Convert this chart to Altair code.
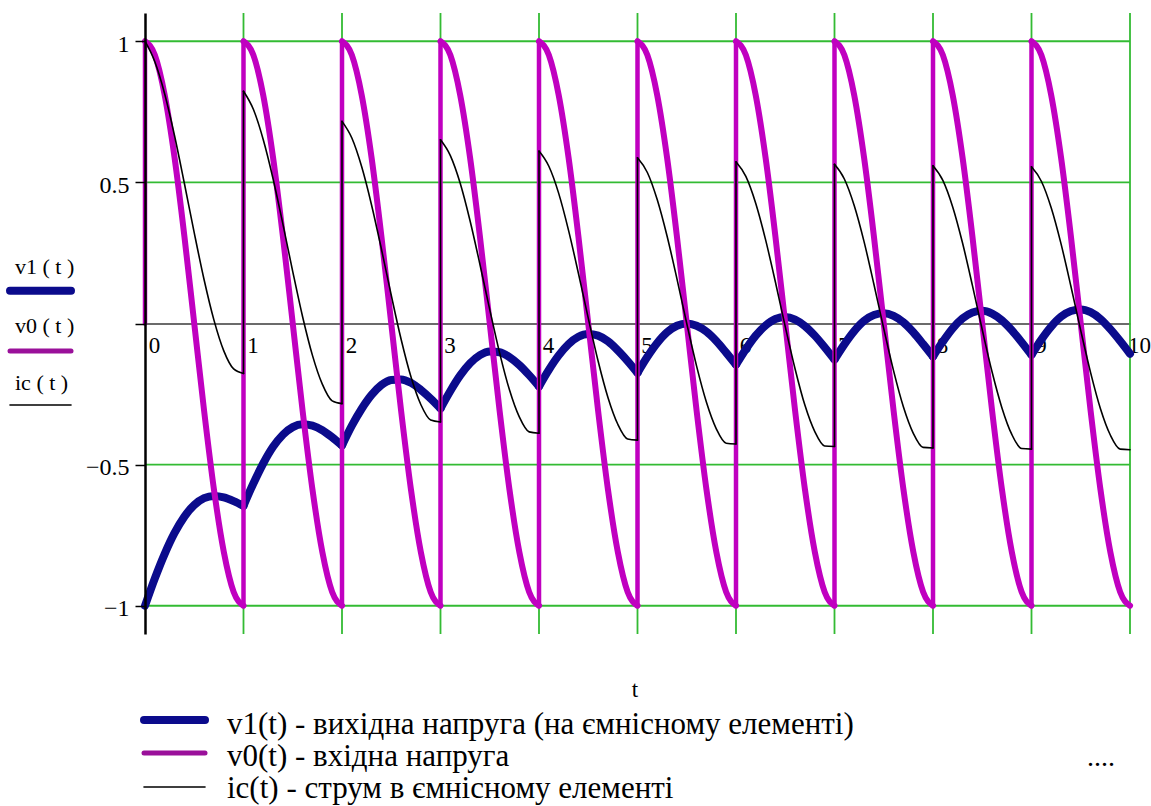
import altair as alt
import pandas as pd

SERIF = "Liberation Serif"

# ---- data ----
tau = [0.0, 0.1, 0.2, 0.3, 0.4, 0.5, 0.6, 0.7, 0.8, 0.9, 1.0]
periods = [0, 1, 2, 3, 4, 5, 6, 7, 8, 9]

v0_before_start = 0.0
v0_period = [1.0, 0.951, 0.809, 0.588, 0.309, 0.0, -0.309, -0.588, -0.809, -0.951, -1.0]

v1_periods = [
    [-1.0, -0.903, -0.816, -0.742, -0.684, -0.643, -0.619, -0.611, -0.616, -0.629, -0.646],
    [-0.646, -0.567, -0.496, -0.437, -0.394, -0.367, -0.357, -0.362, -0.378, -0.403, -0.432],
    [-0.432, -0.362, -0.302, -0.253, -0.218, -0.200, -0.198, -0.210, -0.235, -0.266, -0.301],
    [-0.301, -0.239, -0.184, -0.141, -0.112, -0.099, -0.102, -0.119, -0.147, -0.183, -0.223],
    [-0.223, -0.164, -0.113, -0.073, -0.047, -0.037, -0.043, -0.063, -0.095, -0.133, -0.175],
    [-0.175, -0.118, -0.069, -0.031, -0.008, 0.0, -0.008, -0.029, -0.062, -0.103, -0.146],
    [-0.146, -0.091, -0.043, -0.007, 0.016, 0.023, 0.014, -0.009, -0.043, -0.084, -0.128],
    [-0.128, -0.074, -0.027, 0.009, 0.030, 0.036, 0.027, 0.004, -0.031, -0.073, -0.117],
    [-0.117, -0.064, -0.017, 0.018, 0.039, 0.045, 0.035, 0.011, -0.024, -0.066, -0.111],
    [-0.111, -0.057, -0.011, 0.024, 0.044, 0.050, 0.040, 0.016, -0.020, -0.062, -0.107],
]

ic_periods = [
    [1.0, 0.927, 0.813, 0.665, 0.496, 0.321, 0.155, 0.012, -0.097, -0.161, -0.177],
    [0.823, 0.759, 0.652, 0.513, 0.352, 0.184, 0.024, -0.113, -0.215, -0.274, -0.284],
    [0.716, 0.657, 0.555, 0.420, 0.264, 0.100, -0.056, -0.189, -0.287, -0.342, -0.349],
    [0.651, 0.595, 0.497, 0.364, 0.210, 0.049, -0.104, -0.235, -0.331, -0.384, -0.389],
    [0.611, 0.557, 0.461, 0.330, 0.178, 0.019, -0.133, -0.262, -0.357, -0.409, -0.413],
    [0.587, 0.535, 0.439, 0.310, 0.159, 0.0, -0.151, -0.279, -0.373, -0.424, -0.427],
    [0.573, 0.521, 0.426, 0.297, 0.147, -0.011, -0.161, -0.290, -0.383, -0.434, -0.436],
    [0.564, 0.512, 0.418, 0.290, 0.139, -0.018, -0.168, -0.296, -0.389, -0.439, -0.441],
    [0.559, 0.507, 0.413, 0.285, 0.135, -0.022, -0.172, -0.299, -0.393, -0.443, -0.445],
    [0.555, 0.504, 0.410, 0.282, 0.132, -0.025, -0.174, -0.302, -0.395, -0.445, -0.447],
]

x_ticks = [0, 1, 2, 3, 4, 5, 6, 7, 8, 9, 10]
y_ticks = [-1, -0.5, 0, 0.5, 1]
x_grid = [1, 2, 3, 4, 5, 6, 7, 8, 9, 10]
y_grid = [-1, -0.5, 0.5, 1]

left_labels = ["v1 ( t )", "v0 ( t )", "ic ( t )"]
bottom_labels = [
    "v1(t) - вихідна напруга (на ємнісному елементі)",
    "v0(t) - вхідна напруга",
    "ic(t) - струм в ємнісному елементі",
]
x_title = "t"
dots = "...."

# ---- tables ----
rows = []
for k in periods:
    for i, tt in enumerate(tau):
        t = round(k + tt, 3)
        rows.append(dict(t=t, period=k, series="v0", value=v0_period[i]))
        rows.append(dict(t=t, period=k, series="v1", value=v1_periods[k][i]))
        rows.append(dict(t=t, period=k, series="ic", value=ic_periods[k][i]))
curves = pd.DataFrame(rows)

jrows = [dict(t=0.0, series="v0", lo=v0_before_start, hi=v0_period[0])]
for k in periods[1:]:
    jrows.append(dict(t=float(k), series="v0", lo=v0_period[-1], hi=v0_period[0]))
    jrows.append(dict(t=float(k), series="ic", lo=ic_periods[k - 1][-1], hi=ic_periods[k][0]))
jumps = pd.DataFrame(jrows)

xgrid_df = pd.DataFrame({"t": x_grid})
ygrid_df = pd.DataFrame({"value": y_grid})
one = pd.DataFrame({"a": [0]})

# ---- scales & axes ----
xs = alt.Scale(domain=[0, 10], nice=False, zero=False)
ys = alt.Scale(domain=[-1.1, 1.1], nice=False, zero=False)

xaxis = alt.Axis(values=x_ticks, offset=-310.5, grid=False, ticks=False, tickSize=0,
                 labelAlign="center", labelBaseline="top", labelOffset=9, labelPadding=11,
                 labelFont=SERIF, labelFontSize=23, labelColor="black",
                 domainColor="#3a3a3a", domainWidth=1.5, labelFlush=False,
                 labelOverlap=False, title=None, zindex=0, format="d")
yaxis = alt.Axis(values=y_ticks, grid=False, tickSize=10, tickColor="black", tickWidth=1.5,
                 domainColor="black", domainWidth=2.5, labelFont=SERIF, labelFontSize=24,
                 labelColor="black", labelPadding=6, labelOffset=3, format="~g",
                 labelExpr="datum.value == 0 ? '' : datum.label", title=None, zindex=1)

X = alt.X("t:Q", scale=xs, axis=xaxis)
Y = alt.Y("value:Q", scale=ys, axis=yaxis)

GREEN = "#33bb33"
NAVY = "#0b0b8c"
MAG = "#c000c0"
MAG_LEG = "#9a109a"

vgrid = alt.Chart(xgrid_df).mark_rule(color=GREEN, strokeWidth=1.8).encode(x=X)
hgrid = alt.Chart(ygrid_df).mark_rule(color=GREEN, strokeWidth=1.8).encode(y=Y)


def curve(series, color, width):
    return alt.Chart(curves).transform_filter(alt.datum.series == series).mark_line(
        color=color, strokeWidth=width, strokeCap="round", strokeJoin="round",
        interpolate="monotone").encode(x=X, y=Y, detail="period:N", order="t:Q")


def jump(series, color, width):
    return alt.Chart(jumps).transform_filter(alt.datum.series == series).mark_rule(
        color=color, strokeWidth=width, strokeCap="round").encode(
        x=X, y=alt.Y("lo:Q", scale=ys, axis=yaxis), y2="hi:Q")


v1_line = curve("v1", NAVY, 8)
v0_line = curve("v0", MAG, 6)
v0_jump = jump("v0", MAG, 4.5)
ic_line = curve("ic", "black", 1.6)
ic_jump = jump("ic", "black", 1.6)


def text(label, px, py, size, align="left"):
    return alt.Chart(one).mark_text(text=label, font=SERIF, fontSize=size, color="black",
                                    align=align, baseline="middle").encode(
        x=alt.value(px), y=alt.value(py))


def legline(px1, px2, py, color, width):
    return alt.Chart(one).mark_rule(color=color, strokeWidth=width, strokeCap="round").encode(
        x=alt.value(px1), x2=alt.value(px2), y=alt.value(py))


# plot origin is at (145, 13) in the page
legend_layers = [
    text(left_labels[0], -130, 254, 22),
    legline(-135, -74, 277.7, NAVY, 8),
    text(left_labels[1], -130, 313, 22),
    legline(-135, -74, 338, MAG_LEG, 5),
    text(left_labels[2], -130, 370, 22),
    legline(-135, -74, 392, "black", 1.6),
    text(x_title, 490, 677, 23, align="center"),
    legline(-1, 60, 707, NAVY, 8),
    text(bottom_labels[0], 82, 712, 31),
    legline(-1, 60, 740, MAG_LEG, 5),
    text(bottom_labels[1], 82, 744, 31),
    legline(-1, 60, 774, "black", 1.6),
    text(bottom_labels[2], 82, 776, 31),
    text(dots, 942, 745, 28),
]

chart = alt.layer(
    vgrid, hgrid, v1_line, v0_line, v0_jump, ic_line, ic_jump, *legend_layers
).properties(
    width=985, height=621,
    autosize=alt.AutoSizeParams(type="none"),
    padding={"left": 145, "top": 13, "right": 21, "bottom": 172},
    background="white",
).configure_view(stroke=None)

chart.save("out.html", embed_options={"renderer": "svg", "actions": False})
